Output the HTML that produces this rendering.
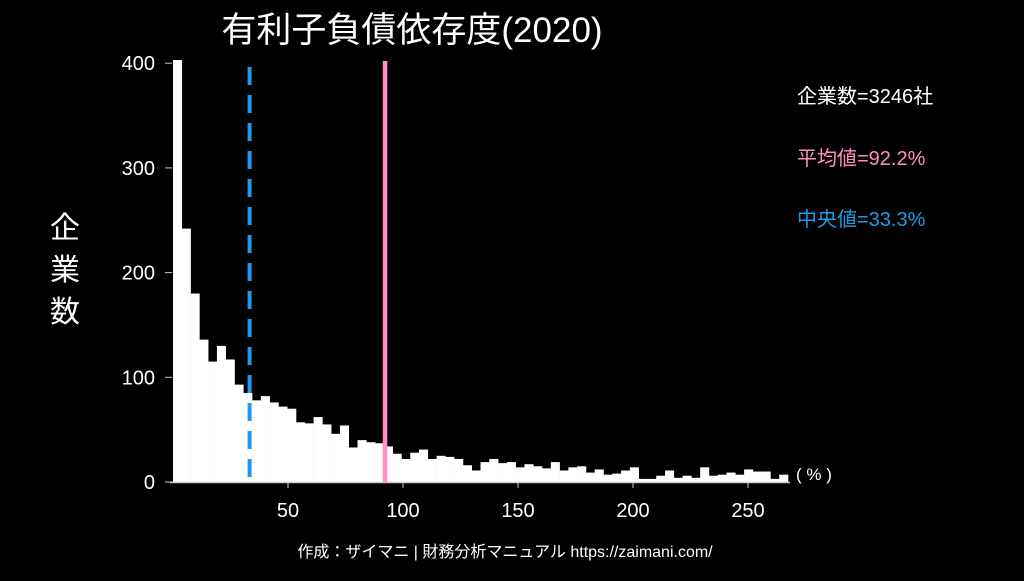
<!DOCTYPE html>
<html><head><meta charset="utf-8"><style>
body{margin:0;background:#000;width:1024px;height:576px;overflow:hidden}
svg text{font-family:"Liberation Sans","Noto Sans CJK JP",sans-serif}
</style></head><body>
<svg id="c" width="1024" height="576" xmlns="http://www.w3.org/2000/svg">
<rect width="1024" height="576" fill="#000"/>
<text x="412" y="42" font-size="35" fill="#fff" text-anchor="middle">有利子負債依存度(2020)</text>
<g font-size="30" fill="#fff" text-anchor="middle">
<text x="65" y="238">企</text><text x="65" y="280">業</text><text x="65" y="322">数</text></g>
<g id="bars"></g>
<g id="axes"></g>
<text x="797" y="103" font-size="20" fill="#fff">企業数=3246社</text>
<text x="797" y="165" font-size="20" fill="#ff8fc0">平均値=92.2%</text>
<text x="797" y="226" font-size="20" fill="#1e9be8">中央値=33.3%</text>
<text x="796" y="480" font-size="17" fill="#fff">( % )</text>
<text x="505" y="557" font-size="16" fill="#fff" text-anchor="middle">作成：ザイマニ | 財務分析マニュアル https://zaimani.com/</text>
</svg>
<script>
const counts=[403,242,180,136,115,130,117,93,85,78,82,76,72,70,57,56,62,55,46,54,33,40,38,37,34,27,22,28,31,22,25,24,22,16,11,19,22,18,19,14,17,15,13,19,11,14,15,9,12,7,8,11,14,3,3,6,11,4,6,4,14,6,7,9,7,12,10,10,3,7];
const binWidth=3.82;
const xTicks=[50,100,150,200,250];
const yTicks=[0,100,200,300,400];
const meanVal=92.2, medianVal=33.3;
const NS="http://www.w3.org/2000/svg";
const X=v=>173+v*2.3, Y=v=>482-v*1.047;
const bars=document.getElementById('bars'), axes=document.getElementById('axes'), svg=document.getElementById('c');
function mk(t,a,p){const e=document.createElementNS(NS,t);for(const k in a)e.setAttribute(k,a[k]);(p||svg).appendChild(e);return e;}
counts.forEach((c,i)=>{
 const r=mk('rect',{x:X(i*binWidth),y:Y(c),width:X((i+1)*binWidth)-X(i*binWidth)+0.3,height:482-Y(c),fill:'#fff'},bars);
 
 
});
const ax=mk('line',{x1:170,x2:790,y1:482.5,y2:482.5,stroke:'#ccc','stroke-width':1.5},axes);


xTicks.forEach(v=>{
 mk('line',{x1:X(v),x2:X(v),y1:482,y2:488,stroke:'#ccc'},axes);
 const t=mk('text',{x:X(v),y:517,'font-size':20,fill:'#fff','text-anchor':'middle'},axes);t.textContent=v;
 
 
});
yTicks.forEach(v=>{
 mk('line',{x1:165,x2:172,y1:Y(v),y2:Y(v),stroke:'#ccc'},axes);
 const t=mk('text',{x:155,y:Y(v)+7,'font-size':20,fill:'#fff','text-anchor':'end'},axes);t.textContent=v;
 
 
});
const md=mk('line',{x1:X(medianVal),x2:X(medianVal),y1:67,y2:482,stroke:'#1e9be8','stroke-width':4,'stroke-dasharray':'18,10'});


const mn=mk('line',{x1:X(meanVal),x2:X(meanVal),y1:61,y2:482,stroke:'#ff8fc0','stroke-width':4.5});


</script>
</body></html>
